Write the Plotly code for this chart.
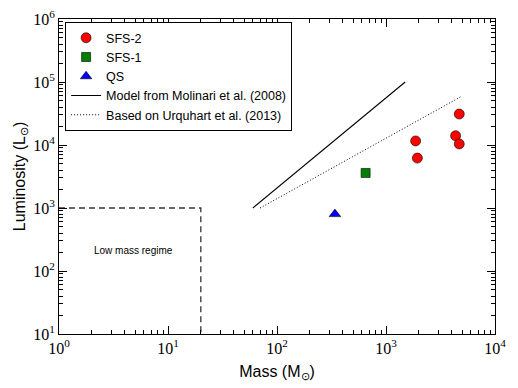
import plotly.graph_objects as go

# Data
sfs2_mass = [1870, 1940, 4350, 4700, 4700]
sfs2_lum = [11600, 6200, 14000, 10400, 31000]
sfs1_mass = [650]
sfs1_lum = [3600]
qs_mass = [340]
qs_lum = [800]
molinari_mass = [60, 1500]
molinari_lum = [1000, 100000]
urquhart_mass = [70, 5000]
urquhart_lum = [1000, 60000]
lowmass_mass = [1, 20, 20]
lowmass_lum = [1000, 1000, 10]

x_tickvals = [1, 10, 100, 1000, 10000]
x_ticktext = ["10<sup>0</sup>", "10<sup>1</sup>", "10<sup>2</sup>", "10<sup>3</sup>", "10<sup>4</sup>"]
y_tickvals = [10, 100, 1000, 10000, 100000, 1000000]
y_ticktext = ["10<sup>1</sup>", "10<sup>2</sup>", "10<sup>3</sup>", "10<sup>4</sup>", "10<sup>5</sup>", "10<sup>6</sup>"]
minor_mult = [2, 3, 4, 5, 6, 7, 8, 9]
x_minor = [m * 10 ** d for d in range(0, 4) for m in minor_mult]
y_minor = [m * 10 ** d for d in range(1, 6) for m in minor_mult]

fig = go.Figure()
fig.add_trace(go.Scatter(x=sfs2_mass, y=sfs2_lum, mode="markers", name="SFS-2",
                         marker=dict(symbol="circle", size=10, color="#ff0000",
                                     line=dict(color="#000000", width=0.6))))
fig.add_trace(go.Scatter(x=sfs1_mass, y=sfs1_lum, mode="markers", name="SFS-1",
                         marker=dict(symbol="square", size=9, color="#007f00",
                                     line=dict(color="#000000", width=0.6))))
fig.add_trace(go.Scatter(x=qs_mass, y=qs_lum, mode="markers", name="QS",
                         marker=dict(symbol="triangle-up", size=10, color="#0000ff",
                                     line=dict(color="#000000", width=0.6))))
fig.add_trace(go.Scatter(x=molinari_mass, y=molinari_lum, mode="lines",
                         name="Model from Molinari et al. (2008)",
                         line=dict(color="#000000", width=1.1)))
fig.add_trace(go.Scatter(x=urquhart_mass, y=urquhart_lum, mode="lines",
                         name="Based on Urquhart et al. (2013)",
                         line=dict(color="#000000", width=1, dash="1px,2px")))
fig.add_trace(go.Scatter(x=lowmass_mass, y=lowmass_lum, mode="lines", showlegend=False,
                         line=dict(color="#333333", width=1.3, dash="6px,4px")))

fig.add_annotation(x=0.68, y=2.33, xref="x", yref="y", text="Low mass regime",
                   showarrow=False, font=dict(family="Liberation Sans", size=10, color="#000"))

def axis_common(minor_vals):
    return dict(
        type="log", showgrid=False, zeroline=False, showline=True, linecolor="#000",
        linewidth=1, mirror="allticks", ticks="inside", ticklen=8, tickwidth=1,
        tickcolor="#000", automargin=False, ticklabeloverflow="allow",
        tickfont=dict(family="Liberation Serif", size=16, color="#000"),
        minor=dict(ticks="inside", ticklen=4, tickwidth=0.8, tickcolor="#000",
                   showgrid=False, tickmode="array", tickvals=minor_vals),
    )

fig.update_xaxes(range=[0, 4], tickvals=x_tickvals, ticktext=x_ticktext,
                 title=dict(text="Mass (M<sub>⊙</sub>)", font=dict(family="Liberation Sans", size=16, color="#000"),
                            standoff=9), **axis_common(x_minor))
fig.update_yaxes(range=[1, 6], tickvals=y_tickvals, ticktext=y_ticktext,
                 title=dict(text="Luminosity (L<sub>⊙</sub>)", font=dict(family="Liberation Sans", size=16, color="#000"),
                            standoff=3), **axis_common(y_minor))

fig.update_layout(
    width=518, height=388,
    margin=dict(l=51, r=31, t=11, b=62),
    plot_bgcolor="#ffffff", paper_bgcolor="#ffffff",
    showlegend=True,
    legend=dict(x=0.014, y=0.99, xanchor="left", yanchor="top",
                bordercolor="#000", borderwidth=1, bgcolor="#ffffff",
                font=dict(family="Liberation Sans", size=12.5, color="#000"),
                tracegroupgap=0, itemwidth=30),
)

fig.write_html("out.html")
